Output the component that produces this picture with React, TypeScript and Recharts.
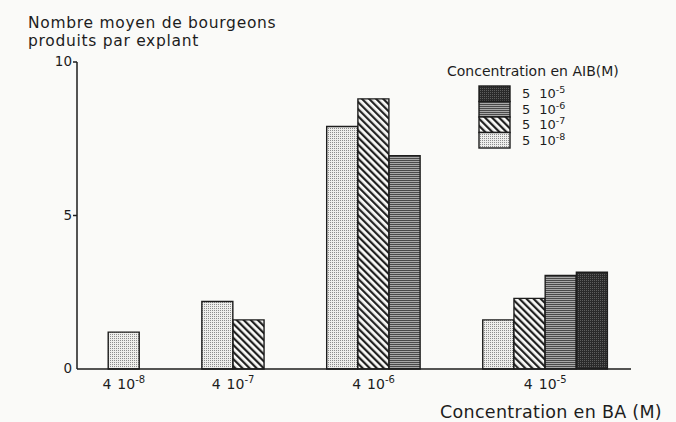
import { BarChart, Bar, XAxis, YAxis, Legend } from 'recharts';

// BA concentration (x categories): mantissa 4, exponents below
const baMantissa = '4';
const baExponents = ['-8', '-7', '-6', '-5'];

// AIB concentration (series): mantissa 5
const aibMantissa = '5';
const aibExponents = ['-8', '-7', '-6', '-5'];

// mean number of buds per explant, one value per BA concentration
const aib5e8 = [1.2, 2.2, 7.9, 1.6];
const aib5e7 = [null, 1.6, 8.8, 2.3];
const aib5e6 = [null, null, 6.95, 3.05];
const aib5e5 = [null, null, null, 3.15];

const yTicks = [0, 5, 10];

const ink = '#1d1d1d';
const seriesValues = [aib5e8, aib5e7, aib5e6, aib5e5];
const seriesKeys = ['aib8', 'aib7', 'aib6', 'aib5'];
const patternIds = ['patDots', 'patHatch', 'patLines', 'patDark'];

// bars are packed side by side inside each group, two empty slots between groups
const rows: Record<string, number>[] = [];
const groupCenters: number[] = [];
let slot = 1;
baExponents.forEach((_, g) => {
  const first = slot;
  seriesValues.forEach((vals, s) => {
    const v = vals[g];
    if (v == null) return;
    rows.push({ pos: slot + 0.5, [seriesKeys[s]]: v });
    slot += 1;
  });
  groupCenters.push((first + slot) / 2);
  slot += 2;
});

const font = '"DejaVu Sans", sans-serif';

const YTick = (props: any) => {
  const { x, y, payload } = props;
  return (
    <g>
      {payload.value > 0 && (
        <line x1={x + 1} x2={x + 5} y1={y} y2={y} stroke={ink} strokeWidth={1.5} />
      )}
      <text x={x} y={y} dy={4} textAnchor="end" fontSize={13.5} fill={ink} fontFamily={font}>
        {payload.value}
      </text>
    </g>
  );
};

const XTick = (props: any) => {
  const { x, y, payload } = props;
  const g = groupCenters.indexOf(payload.value);
  return (
    <text x={x} y={y} dy={12} textAnchor="middle" fontSize={14} fill={ink} fontFamily={font}>
      <tspan>{baMantissa}</tspan>
      <tspan dx={6}>10</tspan>
      <tspan dy={-6} fontSize={10}>{baExponents[g]}</tspan>
    </text>
  );
};

const renderLegend = () => {
  const order = [3, 2, 1, 0];
  return (
    <svg width={210} height={95} style={{ display: 'block' }}>
      <text x={7} y={16} fontSize={14} fill={ink} fontFamily={font}>
        Concentration en AIB(M)
      </text>
      {order.map((s, i) => {
        const top = 26 + i * 15.5;
        return (
          <g key={seriesKeys[s]}>
            <rect
              x={39}
              y={top}
              width={31}
              height={15.5}
              fill={`url(#${patternIds[s]})`}
              stroke={ink}
              strokeWidth={1.4}
            />
            <text x={82} y={top + 12} fontSize={13} fill={ink} fontFamily={font}>
              <tspan>{aibMantissa}</tspan>
              <tspan dx={9}>10</tspan>
              <tspan dy={-5} fontSize={9.5}>{aibExponents[s]}</tspan>
            </text>
          </g>
        );
      })}
    </svg>
  );
};

export default function App() {
  return (
    <div
      style={{
        position: 'absolute',
        left: 0,
        top: 0,
        width: 676,
        height: 422,
        background: '#fafaf8',
        fontFamily: font,
        color: ink,
      }}
    >
      <div
        style={{
          position: 'absolute',
          left: 28,
          top: 13.5,
          fontSize: 15.5,
          lineHeight: '18.2px',
          letterSpacing: 0.7,
          whiteSpace: 'nowrap',
        }}
      >
        Nombre moyen de bourgeons
        <br />
        produits par explant
      </div>
      <div
        style={{
          position: 'absolute',
          right: 14,
          top: 401.5,
          fontSize: 17.5,
          lineHeight: '20px',
          letterSpacing: 0.3,
          whiteSpace: 'nowrap',
        }}
      >
        Concentration en BA (M)
      </div>
      <BarChart
        width={676}
        height={422}
        data={rows}
        margin={{ top: 62, right: 45, bottom: 23, left: 37 }}
        barCategoryGap={0}
        barGap={0}
      >
        <defs>
          <pattern id="patDots" width={2} height={2} patternUnits="userSpaceOnUse">
            <rect width={2} height={2} fill="#eeeeec" />
            <rect width={1} height={1} fill="#8c8c8c" />
          </pattern>
          <pattern
            id="patHatch"
            width={5}
            height={5}
            patternUnits="userSpaceOnUse"
            patternTransform="rotate(-45)"
          >
            <rect width={5} height={5} fill="#fafaf8" />
            <rect width={2.2} height={5} fill="#222" />
          </pattern>
          <pattern id="patLines" width={4} height={2} patternUnits="userSpaceOnUse">
            <rect width={4} height={2} fill="#a8a8a8" />
            <rect width={4} height={1} fill="#4a4a4a" />
          </pattern>
          <pattern id="patDark" width={2} height={2} patternUnits="userSpaceOnUse">
            <rect width={2} height={2} fill="#2a2a2a" />
            <rect width={1} height={1} fill="#5e5e5e" />
          </pattern>
        </defs>
        <XAxis
          type="number"
          dataKey="pos"
          domain={[0, 17.75]}
          ticks={groupCenters}
          interval={0}
          tick={<XTick />}
          tickLine={false}
          axisLine={{ stroke: ink, strokeWidth: 1.5 }}
          height={30}
        />
        <YAxis
          type="number"
          domain={[0, 10]}
          ticks={yTicks}
          interval={0}
          tick={<YTick />}
          tickLine={false}
          tickSize={4}
          tickMargin={1}
          axisLine={{ stroke: ink, strokeWidth: 1.5 }}
          width={40}
        />
        <Legend
          content={renderLegend}
          layout="vertical"
          align="center"
          verticalAlign="middle"
          wrapperStyle={{ left: 440, top: 60, width: 210, height: 95 }}
        />
        {seriesKeys.map((key, s) => (
          <Bar
            key={key}
            dataKey={key}
            name={`${aibMantissa} 10${aibExponents[s]}`}
            stackId="aib"
            fill={`url(#${patternIds[s]})`}
            stroke={ink}
            strokeWidth={1.4}
            isAnimationActive={false}
          />
        ))}
      </BarChart>
    </div>
  );
}
